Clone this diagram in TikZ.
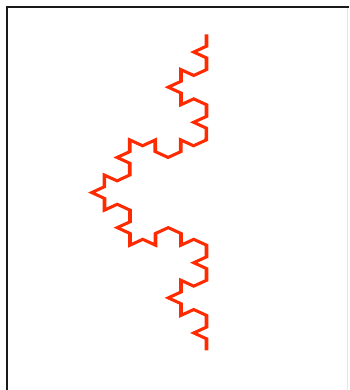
\documentclass[tikz,border=0pt]{standalone}
\usepackage{xcolor}
\usepackage{tikz}
\usetikzlibrary{decorations.fractals}
\definecolor{kochred}{HTML}{FF2A00}
\definecolor{framegray}{HTML}{1A1A1A}
\definecolor{edgegray}{HTML}{E6E6E6}

\begin{document}
\begin{tikzpicture}[x=1pt, y=1pt,
  frame/.style={draw=framegray, line width=1.8pt},
  koch/.style={draw=kochred, line width=2.9pt, line join=miter,
    decoration={Koch snowflake}}]
  \useasboundingbox (0,0) rectangle (349,390);
  \draw[frame] (7.3,0) -- (7.3,382.7) -- (349,382.7);
  \draw[edgegray, line width=1pt] (347.8,0) -- (347.8,382);
  % curve, stretched sideways
  \begin{scope}[transform canvas={shift={(206.5,0)}, xscale=1.26}]
    \coordinate (kbot) at (0,39.5);
    \coordinate (ktop) at (0,355.5);
    \draw[koch] decorate{decorate{decorate{(kbot) -- (ktop)}}};
  \end{scope}
\end{tikzpicture}
\end{document}
